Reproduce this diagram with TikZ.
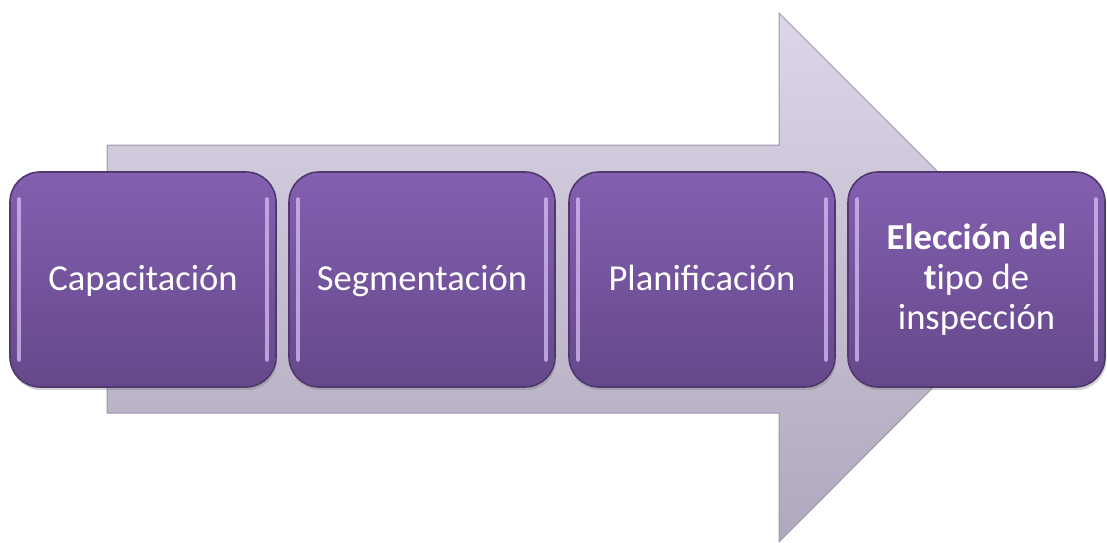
\documentclass[tikz,border=0pt]{standalone}
\usepackage{fontspec}
\setmainfont{Carlito}
\usetikzlibrary{shadows}

\definecolor{boxtop}{RGB}{131,96,176}
\definecolor{boxbot}{RGB}{101,72,138}
\definecolor{boxline}{RGB}{80,57,110}
\definecolor{boxshine}{RGB}{222,196,250}
\definecolor{arrowtop}{RGB}{220,214,232}
\definecolor{arrowbot}{RGB}{176,168,188}
\definecolor{arrowline}{RGB}{158,150,170}

\begin{document}
\begin{tikzpicture}[x=0.5pt, y=-0.5pt,
  stepbox/.style={rectangle, rounded corners=15pt, draw=boxline, line width=0.8pt,
    top color=boxtop, bottom color=boxbot, minimum width=133pt, minimum height=107.5pt,
    text=white, font=\fontsize{18.3}{20}\selectfont, align=center,
    drop shadow={shadow xshift=0.6pt, shadow yshift=-1.6pt, opacity=0.35}},
  oneline/.style={text height=12pt, text depth=1.5pt},
  shine/.style={draw=boxshine, line width=2pt, line cap=round, opacity=0.7}]
\useasboundingbox (0,0) rectangle (1107,542);

% big arrow behind the steps
\draw[draw=arrowline, line width=0.5pt, top color=arrowtop, bottom color=arrowbot]
  (107,145) -- (779,145) -- (779,13) -- (1043,277) -- (779,542) -- (779,413) -- (107,413) -- cycle;

\node [stepbox, oneline] (b1) at (143,279.5) {Capacitación};
\node [stepbox, oneline] (b2) at (422,279.5) {Segmentación};
\node [stepbox, oneline] (b3) at (702,279.5) {Planificación};
\node [stepbox, minimum width=128.5pt] (b4) at (976.5,279.5) {\textbf{Elección del}\\\textbf{t}ipo de\\inspección};

% bevel light on the sides
\foreach \b in {b1,b2,b3,b4} {
  \draw[shine] ([shift={(5pt,-14pt)}]\b.north west) -- ([shift={(5pt,14pt)}]\b.south west);
  \draw[shine] ([shift={(-5pt,-14pt)}]\b.north east) -- ([shift={(-5pt,14pt)}]\b.south east);
}
\end{tikzpicture}
\end{document}
